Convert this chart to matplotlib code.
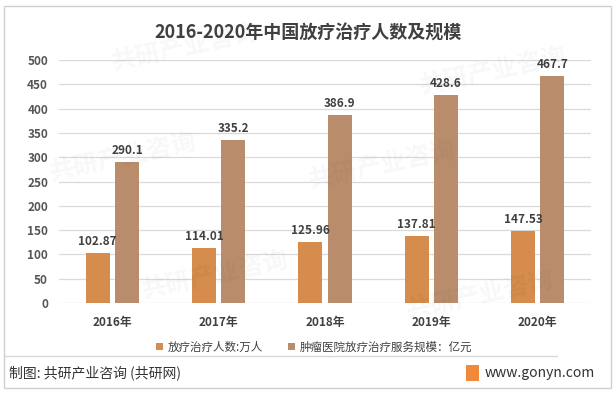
import numpy as np
import matplotlib.pyplot as plt
from matplotlib.patches import Rectangle

plt.rcParams['font.family'] = ['Noto Sans CJK SC', 'DejaVu Sans']

years = ['2016年', '2017年', '2018年', '2019年', '2020年']
patients = [102.87, 114.01, 125.96, 137.81, 147.53]
scale = [290.1, 335.2, 386.9, 428.6, 467.7]
patients_label = '放疗治疗人数:万人'
scale_label = '肿瘤医院放疗治疗服务规模：亿元'

c1 = '#d58c4c'
c2 = '#b98d6c'
txt = '#404040'

fig = plt.figure(figsize=(6.16, 3.93), dpi=100)
fig.patches.append(Rectangle((0.007, 0.013), 0.985, 0.972, transform=fig.transFigure,
                             fill=False, edgecolor='#d0d0d0', lw=1))

# faint watermark
for (wx, wy) in [(0.3, 0.88), (0.8, 0.82), (0.2, 0.6), (0.62, 0.58), (0.35, 0.3), (0.78, 0.25)]:
    fig.text(wx, wy, '共研产业咨询', fontsize=18, fontweight='bold', color='#000000',
             alpha=0.03, rotation=12, ha='center', va='center')

ax = fig.add_axes([0.096, 0.229, 0.863, 0.618])
x = np.arange(len(years))
w = 0.225
off = 0.138
b1 = ax.bar(x - off, patients, w, color=c1, label=patients_label, zorder=3)
b2 = ax.bar(x + off, scale, w, color=c2, label=scale_label, zorder=3)

for xi, v in zip(x, patients):
    ax.text(xi - off, v + 10, f'{v:g}', ha='center', va='bottom', fontsize=8.5,
            fontweight='bold', color=txt)
for xi, v in zip(x, scale):
    ax.text(xi + off, v + 10, f'{v:g}', ha='center', va='bottom', fontsize=8.5,
            fontweight='bold', color=txt)

ax.set_xlim(-0.5, 4.5)
ax.set_ylim(0, 500)
ax.set_yticks(np.arange(0, 501, 50))
ax.set_xticks(x)
ax.set_xticklabels(years, fontsize=8.5, fontweight='bold', color=txt)
ax.tick_params(axis='y', labelsize=8.5, labelcolor='#555555', length=0, pad=8)
ax.tick_params(axis='x', length=0, pad=9)
for lab in ax.get_yticklabels():
    lab.set_fontweight('bold')
ax.grid(axis='y', color='#d9d9d9', lw=0.9, zorder=0)
for s in ax.spines.values():
    s.set_visible(False)
ax.patch.set_alpha(0)

fig.legend(handles=[b1, b2], loc='center', bbox_to_anchor=(0.51, 0.117), ncol=2,
           frameon=False, fontsize=8.3, handlelength=0.6, handleheight=0.6,
           columnspacing=2.2, handletextpad=0.4, labelcolor=txt)

fig.text(0.5, 0.916, '2016-2020年中国放疗治疗人数及规模', ha='center', va='center',
         fontsize=13, fontweight='bold', color='#404040')

fig.add_artist(plt.Line2D([0.008, 0.905], [0.094, 0.094], color='#d9d9d9', lw=1))
fig.text(0.014, 0.051, '制图: 共研产业咨询 (共研网)', ha='left', va='center', fontsize=10, color='#333333')
fig.text(0.787, 0.051, 'www.gonyn.com', ha='left', va='center', fontsize=10, color='#333333')
fig.patches.append(Rectangle((0.757, 0.031), 0.02, 0.04, transform=fig.transFigure,
                             facecolor='#f08a3a', edgecolor='none'))

fig.savefig('out.png', dpi=100)
